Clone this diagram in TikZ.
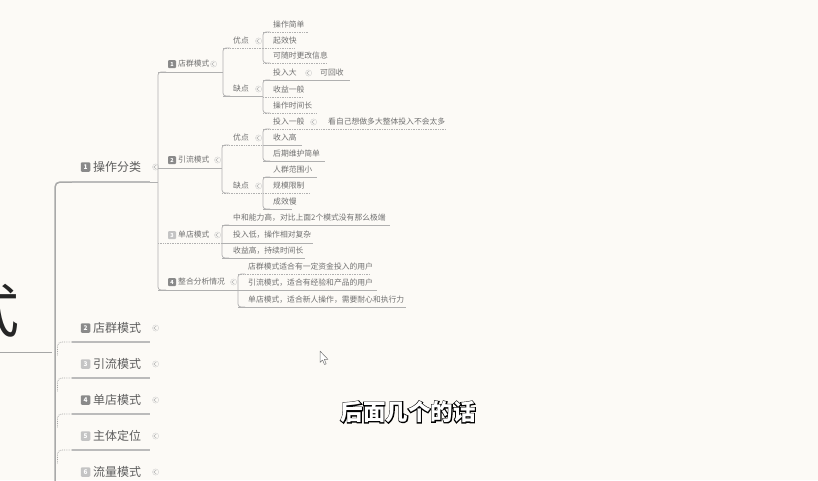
\documentclass[tikz,border=0pt]{standalone}
\usepackage{fontspec}
\setmainfont{Noto Sans CJK SC}
\newfontfamily\cjk{Noto Sans CJK SC}
\newfontfamily\cjkoutline{Noto Sans CJK SC}[FakeBold=8]
\definecolor{bg}{HTML}{FCFAF6}
\definecolor{txtgray}{HTML}{707070}
\definecolor{maingray}{HTML}{5E5E5E}
\definecolor{badgedark}{HTML}{8A8A8A}
\definecolor{badgelight}{HTML}{C4C4C4}
\definecolor{linegray}{HTML}{B0B0B0}
\definecolor{thickgray}{HTML}{BBBBBB}
\definecolor{trunkgray}{HTML}{A9A9A9}
\tikzset{
  txt/.style={anchor=west, inner sep=0pt, font=\cjk\fontsize{7.8}{8}\selectfont, text=txtgray},
  bigtxt/.style={anchor=west, inner sep=0pt, font=\cjk\fontsize{12}{12}\selectfont, text=maingray},
  sbadge/.style={fill=badgedark, rounded corners=1pt, minimum size=8pt, inner sep=0pt, text=white, font=\fontsize{5.5}{6}\selectfont\bfseries},
  bbadge/.style={fill=badgedark, rounded corners=1.2pt, minimum size=9.5pt, inner sep=0pt, text=white, font=\fontsize{6.5}{7}\selectfont\bfseries},
  lbadge/.style={bbadge, fill=badgelight},
  ul/.style={draw=linegray, line width=0.7pt},
  uld/.style={ul, densely dotted},
  thickul/.style={draw=thickgray, line width=2.6pt},
  trunk/.style={draw=trunkgray, line width=1.5pt},
  branch/.style={draw=trunkgray, line width=0.8pt, densely dotted, rounded corners=4pt},
  expicon/.pic={\draw[draw=black!30, line width=0.5pt] (1.2,-1.9) -- (-1.2,0) -- (1.2,1.9);
                \draw[draw=black!18, line width=0.4pt] (0.6,0) circle (3.1);},
}
\begin{document}
\begin{tikzpicture}[x=1pt,y=-1pt]
\fill[bg] (0,0) rectangle (818,480);
\useasboundingbox (0,0) rectangle (818,480);
\begin{scope}
\clip (0,0) rectangle (818,480);
% root remnant
\node[anchor=east, inner sep=0pt, font=\cjk\fontsize{58}{58}\selectfont, text=black!85] (root) at (20,311) {式};
\draw[ul, draw=black!35] (0,352) -- (52,352);
% ===== level 1 trunk =====
\draw[trunk, rounded corners=5pt] (72,182) -- (55,182) -- (55,490);
\foreach \yy in {342,378,414,450,486}{
  \draw[branch] (72,\yy) -- (57.5,\yy) -- (57.5,\yy+14);
  \draw[thickul] (72,\yy) -- (150,\yy);
}
\draw[thickul] (72,182) -- (150,182);
% level-1 nodes
\node[bbadge] (b1) at (85.5,167) {1};
\node[bigtxt] (op) at (93,167) {操作分类};
\node[bbadge] (b2) at (85.5,328) {2};
\node[bigtxt] (m1) at (93,328) {店群模式};
\node[lbadge] (b3) at (85.5,364) {3};
\node[bigtxt] (m2) at (93,364) {引流模式};
\node[bbadge] (b4) at (85.5,400) {4};
\node[bigtxt] (m3) at (93,400) {单店模式};
\node[lbadge] (b5) at (85.5,436) {5};
\node[bigtxt] (m4) at (93,436) {主体定位};
\node[lbadge] (b6) at (85.5,472) {6};
\node[bigtxt] (m5) at (93,472) {流量模式};
\foreach \yy in {167,328,364,400,436,472}{ \pic at (155,\yy) {expicon}; }
% ===== level 2 =====
\draw[ul] (150,182) -- (158,182);
\draw[ul, rounded corners=3pt] (166,72) -- (158,72) -- (158,290) -- (166,290);
\draw[ul] (158,72) -- (223,72);
\draw[ul] (158,168) -- (222,168);
\draw[uld] (158,243) -- (222,243);
\draw[ul] (158,290) -- (238,290);
\node[sbadge] (c1) at (172,64) {1};
\node[txt] (d1) at (178,64) {店群模式};
\node[sbadge] (c2) at (172,160) {2};
\node[txt] (d2) at (178,160) {引流模式};
\node[sbadge, fill=badgelight] (c3) at (172,235) {3};
\node[txt] (d3) at (178,235) {单店模式};
\node[sbadge] (c4) at (172,282) {4};
\node[txt] (d4) at (178,282) {整合分析情况};
\pic at (213,64) {expicon};
\pic at (217,160) {expicon};
\pic at (217,235) {expicon};
\pic at (233,282) {expicon};
% ===== 店群模式 children =====
\draw[ul, rounded corners=3pt] (230,48) -- (223,48) -- (223,96) -- (230,96);
\draw[uld] (223,48) -- (263,48);
\draw[ul] (223,96) -- (263,96);
\node[txt] (y1) at (233,41) {优点};
\node[txt] (q1) at (233,89) {缺点};
\pic at (258,41) {expicon};
\pic at (258,89) {expicon};
\draw[ul, rounded corners=3pt] (270,32) -- (263,32) -- (263,63) -- (270,63);
\draw[uld] (263,32) -- (308,32);
\draw[uld] (263,48) -- (295,48);
\draw[uld] (263,63) -- (327,63);
\node[txt] (l1) at (273,25) {操作简单};
\node[txt] (l2) at (273,41) {起效快};
\node[txt] (l3) at (273,56) {可随时更改信息};
\draw[ul, rounded corners=3pt] (270,80) -- (263,80) -- (263,113) -- (270,113);
\draw[ul] (263,80) -- (350,80);
\draw[uld] (263,97) -- (303,97);
\draw[uld] (263,113) -- (317,113);
\node[txt] (l4) at (273,73) {投入大};
\pic at (308,73) {expicon};
\node[txt] (l4b) at (320,73) {可回收};
\node[txt] (l5) at (273,90) {收益一般};
\node[txt] (l6) at (273,106) {操作时间长};
% ===== 引流模式 children =====
\draw[ul, rounded corners=3pt] (229,145) -- (222,145) -- (222,193) -- (229,193);
\draw[uld] (222,145) -- (263,145);
\draw[uld] (222,193) -- (263,193);
\node[txt] (y2) at (233,138) {优点};
\node[txt] (q2) at (233,186) {缺点};
\pic at (258,138) {expicon};
\pic at (258,186) {expicon};
\draw[ul, rounded corners=3pt] (270,129) -- (263,129) -- (263,161) -- (270,161);
\draw[uld] (263,129) -- (445,129);
\draw[ul] (263,145) -- (302,145);
\draw[ul] (263,161) -- (325,161);
\node[txt] (l7) at (273,122) {投入一般};
\pic at (313,122) {expicon};
\node[txt] (l7b) at (328,122) {看自己想做多大整体投入不会太多};
\node[txt] (l8) at (273,138) {收入高};
\node[txt] (l9) at (273,154) {后期维护简单};
\draw[ul, rounded corners=3pt] (270,177) -- (263,177) -- (263,209) -- (270,209);
\draw[ul] (263,177) -- (317,177);
\draw[uld] (263,193) -- (310,193);
\draw[ul] (263,209) -- (292,209);
\node[txt] (l10) at (273,170) {人群范围小};
\node[txt] (l11) at (273,186) {规模限制};
\node[txt] (l12) at (273,202) {成效慢};
% ===== 单店模式 children =====
\draw[ul, rounded corners=3pt] (229,225) -- (222,225) -- (222,258) -- (229,258);
\draw[ul] (222,225) -- (390,225);
\draw[ul] (222,243) -- (313,243);
\draw[ul] (222,258) -- (305,258);
\node[txt] (l13) at (233,218) {中和能力高，对比上面2个模式没有那么极端};
\node[txt] (l14) at (233,235) {投入低，操作相对复杂};
\node[txt] (l15) at (233,251) {收益高，持续时间长};
% ===== 整合分析情况 children =====
\draw[ul, rounded corners=3pt] (245,274) -- (238,274) -- (238,307) -- (245,307);
\draw[uld] (238,274) -- (370,274);
\draw[ul] (238,290) -- (377,290);
\draw[ul] (238,307) -- (406,307);
\node[txt] (l16) at (248,267) {店群模式适合有一定资金投入的用户};
\node[txt] (l17) at (248,283) {引流模式，适合有经验和产品的用户};
\node[txt] (l18) at (248,300) {单店模式，适合新人操作，需要耐心和执行力};
% ===== cursor =====
\draw[fill=white, draw=black!55, line width=0.5pt, line join=round]
  (320,351) -- (320,362.5) -- (322.6,360) -- (324.5,364.5) -- (326.2,363.8) -- (324.4,359.4) -- (328,359.4) -- cycle;
% ===== subtitle =====
\node[inner sep=0pt, font=\cjkoutline\bfseries\fontsize{22.5}{23}\selectfont, text=black] (subo) at (408,412) {后面几个的话};
\node[inner sep=0pt, font=\cjk\bfseries\fontsize{22.5}{23}\selectfont, text=white] (sub) at (408,412) {后面几个的话};
\end{scope}
\end{tikzpicture}
\end{document}
